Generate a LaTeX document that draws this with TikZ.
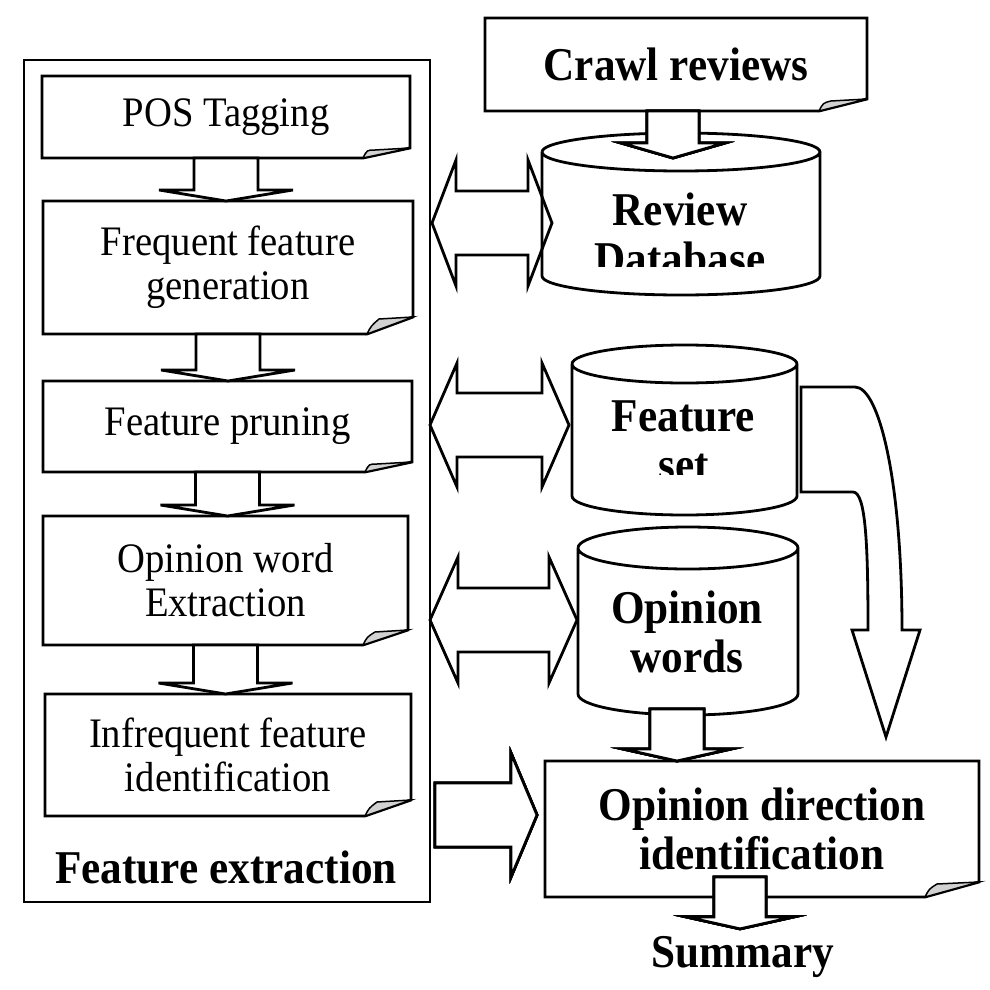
\documentclass[tikz,border=0pt]{standalone}
\usepackage{fontspec}
\setmainfont{Liberation Serif}[FakeStretch=0.92]
\usetikzlibrary{calc}

\newcommand\stepfont{\fontsize{42pt}{44pt}\selectfont}
\newcommand\headfont{\fontsize{47pt}{49pt}\selectfont\bfseries}

% box with a folded corner: node, cut width, cut height
\newcommand\foldbox[3]{%
  \draw[line] (#1.south west) -- (#1.north west) -- (#1.north east)
    -- ($(#1.south east)+(0,-#3)$) -- ($(#1.south east)+(-#2,0)$) -- cycle;
  \filldraw[curl] ($(#1.south east)+(-#2,0)$)
    .. controls ($(#1.south east)+(-#2+4,-8)$) .. ($(#1.south east)+(-#2+12,-#3+2)$)
    -- ($(#1.south east)+(0,-#3)$) -- cycle;}

% database drum round a node: node, y radius
\newcommand\drum[2]{%
  \draw[line] let \p1=(#1.north west), \p2=(#1.south east), \n1={(\x2-\x1)/2} in
    (\x1,\y1-#2) arc[start angle=180, end angle=-180, x radius=\n1, y radius=#2]
    (\x1,\y1-#2) -- (\x1,\y2+#2) arc[start angle=180, end angle=360, x radius=\n1, y radius=#2]
    -- (\x2,\y1-#2);}

% block arrows: from, to, shaft half width, head half width, head length
\newcommand\blockdown[5]{%
  \draw[blockarrow] let \p1=(#1), \p2=(#2) in
    (\x1-#3,\y1) -- (\x1-#3,\y2+#5) -- (\x1-#4,\y2+#5) -- (\x1,\y2)
    -- (\x1+#4,\y2+#5) -- (\x1+#3,\y2+#5) -- (\x1+#3,\y1) -- cycle;}
\newcommand\blockright[5]{%
  \draw[blockarrow] let \p1=(#1), \p2=(#2) in
    (\x1,\y1+#3) -- (\x2-#5,\y1+#3) -- (\x2-#5,\y1+#4) -- (\x2,\y1)
    -- (\x2-#5,\y1-#4) -- (\x2-#5,\y1-#3) -- (\x1,\y1-#3) -- cycle;}
\newcommand\blockboth[5]{%
  \draw[bothway] let \p1=(#1), \p2=(#2) in
    (\x1,\y1) -- (\x1+#5,\y1+#4) -- (\x1+#5,\y1+#3) -- (\x2-#5,\y1+#3)
    -- (\x2-#5,\y1+#4) -- (\x2,\y1) -- (\x2-#5,\y1-#4) -- (\x2-#5,\y1-#3)
    -- (\x1+#5,\y1-#3) -- (\x1+#5,\y1-#4) -- cycle;}

\begin{document}
\begin{tikzpicture}[x=1pt,y=-1pt,
    line/.style={line width=2.8pt, line join=miter},
    curl/.style={line width=1.5pt, fill=gray!35},
    stepbox/.style={inner sep=0pt, outer sep=0pt, align=center, font=\stepfont},
    headbox/.style={inner sep=0pt, outer sep=0pt, align=center, font=\headfont},
    blockarrow/.style={line, fill=white},
    bothway/.style={line}]
    \useasboundingbox (0,0) rectangle (990,990);
    % Draw feature extraction frame
    \node[draw, line, inner sep=0pt, outer sep=0pt, minimum width=406pt, minimum height=842pt] (frame) at (227,481) {};
    \node[headbox] (fext) at (226,867) {Feature extraction};
    % Draw steps
    \node[stepbox, minimum width=368pt, minimum height=82pt] (pos) at (226,117) {POS Tagging};
    \node[stepbox, minimum width=370pt, minimum height=133pt] (freq) at (228,267.5) {Frequent feature\\generation};
    \node[stepbox, minimum width=369pt, minimum height=91pt] (prune) at (227.5,426.5) {Feature pruning};
    \node[stepbox, minimum width=365pt, minimum height=129pt] (opw) at (225.5,580.5) {Opinion word\\Extraction};
    \node[stepbox, minimum width=366pt, minimum height=122pt] (infreq) at (228,755) {Infrequent feature\\identification};
    \foldbox{pos}{47}{10}
    \foldbox{freq}{46}{17}
    \foldbox{prune}{47}{10}
    \foldbox{opw}{45}{15}
    \foldbox{infreq}{46}{16}
    % Draw right column
    \node[headbox, minimum width=382pt, minimum height=93pt] (crawl) at (676,64.5) {Crawl reviews};
    \foldbox{crawl}{48}{12}
    \node[headbox, minimum width=434pt, minimum height=136pt] (dir) at (762,829) {Opinion direction\\identification};
    \foldbox{dir}{54}{15}
    \node[headbox] (summary) at (743,956.5) {Summary};
    % Draw databases
    \node[inner sep=0pt, outer sep=0pt, minimum width=278pt, minimum height=162pt] (rdb) at (681,214) {};
    \node[inner sep=0pt, outer sep=0pt, minimum width=225pt, minimum height=170pt] (fset) at (684.5,430) {};
    \node[inner sep=0pt, outer sep=0pt, minimum width=220pt, minimum height=188pt] (owdb) at (688,621) {};
    \drum{rdb}{19pt}
    \drum{fset}{19pt}
    \drum{owdb}{21pt}
    \begin{scope}
        \clip (rdb.north west) rectangle ($(rdb.south east)+(0,-29)$);
        \node[headbox] (rdbtext) at (680,233.5) {Review\\Database};
    \end{scope}
    \begin{scope}
        \clip (fset.north west) rectangle ($(fset.south east)+(0,-41)$);
        \node[headbox] (fsettext) at (683.5,440.5) {Feature\\set};
    \end{scope}
    \node[headbox] (owdbtext) at (687,631.5) {Opinion\\words};
    % Draw two-way arrows
    \blockboth{$(frame.east |- rdb.west)+(2,9)$}{$(rdb.west)+(10,9)$}{32pt}{63pt}{24pt}
    \blockboth{$(frame.east |- fset.west)+(0,-5)$}{$(fset.west)+(-3,-5)$}{32pt}{62pt}{27pt}
    \blockboth{$(frame.east |- owdb.west)+(0,-1)$}{$(owdb.west)+(-1,-1)$}{32pt}{63pt}{28pt}
    % Draw block arrows
    \foreach \a/\b in {pos/freq, freq/prune, prune/opw, opw/infreq}
        \blockdown{\a.south}{\b.north}{32pt}{67pt}{11pt}
    \blockdown{$(crawl.south)+(-3,0)$}{$(rdb.north)+(0,25)$}{26pt}{52pt}{15pt}
    \blockdown{$(owdb.south)+(-11,-6)$}{dir.north}{27pt}{54pt}{12pt}
    \blockdown{$(dir.south)+(-22,-20)$}{$(summary.north)+(0,-7)$}{26pt}{54pt}{12pt}
    \blockright{$(frame.east |- dir.west)+(5,-14)$}{$(dir.west)+(-8,-14)$}{32pt}{62pt}{26pt}
    % Draw bent arrow from feature set
    \coordinate (fsettip) at (886,737);
    \draw[blockarrow] let \p1=(fset.east), \p2=(fsettip) in
        (\x1+4pt,\y1+43pt) -- (\x1+58pt,\y1+43pt)
        .. controls (\x1+82pt,\y1+43pt) and (\x2+16pt,\y2+257pt) .. (\x2+16pt,\y2+107pt)
        -- (\x2+34pt,\y2+107pt) -- (\x2,\y2) -- (\x2-34pt,\y2+107pt) -- (\x2-18pt,\y2+107pt)
        .. controls (\x2-18pt,\y2+190pt) and (\x1+69pt,\y1-62pt) .. (\x1+56pt,\y1-62pt)
        -- (\x1+4pt,\y1-62pt) -- cycle;
\end{tikzpicture}
\end{document}
